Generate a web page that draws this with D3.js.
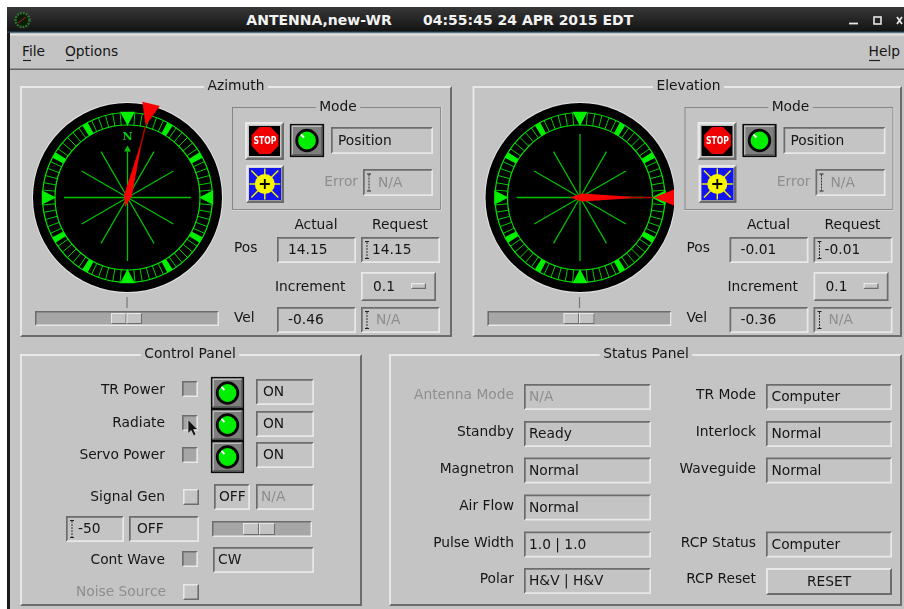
<!DOCTYPE html>
<html><head><meta charset="utf-8">
<script src="https://cdn.jsdelivr.net/npm/d3@7"></script>
<style>
html,body{margin:0;padding:0;background:#fff;overflow:hidden}
svg{display:block;filter:blur(0.4px)}
text{font-family:"DejaVu Sans",sans-serif;font-size:13.8px;fill:#161616}
</style></head><body><svg id="c" width="904" height="609"></svg>
<script>
// ---- data ----
const windowTitle = "ANTENNA,new-WR";
const windowClock = "04:55:45 24 APR 2015 EDT";
const menuItems = ["File", "Options"];
const dialNames = ["Azimuth", "Elevation"];
const dialModes = ["Position", "Position"];
const positionActual = ["14.15", "-0.01"];
const positionRequest = ["14.15", "-0.01"];
const velocityActual = ["-0.46", "-0.36"];
const increments = ["0.1", "0.1"];
const needleDegrees = [14.15, 90.01];
const controlLabels = ["TR Power", "Radiate", "Servo Power"];
const controlStates = ["ON", "ON", "ON"];
const statusLeftLabels = ["Antenna Mode", "Standby", "Magnetron", "Air Flow", "Pulse Width", "Polar"];
const statusLeftValues = ["N/A", "Ready", "Normal", "Normal", "1.0 | 1.0", "H&V | H&V"];
const statusRightLabels = ["TR Mode", "Interlock", "Waveguide", "RCP Status"];
const statusRightValues = ["Computer", "Normal", "Normal", "Computer"];

// ---- colours ----
const BG="#c4c4c4", DK="#6c6c6c", LT="#e8e8e8", TROUGH="#a6a6a6", GREEN="#00ee00", RING="#00e000", WEDGE="#00f000", SPOKE="#00c000", RED="#fa0000", DIS="#8e8e8e";

const svg=d3.select("#c");
const defs=svg.append("defs");
const tg=defs.append("linearGradient").attr("id","tb").attr("x1",0).attr("x2",0).attr("y1",0).attr("y2",1);
tg.append("stop").attr("offset",0).attr("stop-color","#383838");
tg.append("stop").attr("offset",1).attr("stop-color","#121212");

function rect(g,x,y,w,h,fill,stroke,sw){return g.append("rect").attr("x",x).attr("y",y).attr("width",w).attr("height",h).attr("fill",fill||"none").attr("stroke",stroke||"none").attr("stroke-width",sw||1);}
function txt(g,x,y,s,o={}){const t=g.append("text").attr("x",x).attr("y",y).attr("text-anchor",o.a||"start").attr("dominant-baseline","central").text(s);if(o.c)t.style("fill",o.c);if(o.w)t.style("font-weight",o.w);if(o.s)t.style("font-size",o.s+"px");return t;}
function bevel(g,x,y,w,h,tl,br,t){
  g.append("path").attr("fill",tl).attr("d",`M${x},${y+h}V${y}H${x+w}L${x+w-t},${y+t}H${x+t}V${y+h-t}Z`);
  g.append("path").attr("fill",br).attr("d",`M${x+w},${y}V${y+h}H${x}L${x+t},${y+h-t}H${x+w-t}V${y+t}Z`);
}
const sunken=(g,x,y,w,h,t=1.7)=>bevel(g,x,y,w,h,DK,LT,t);
const raised=(g,x,y,w,h,t=1.7)=>bevel(g,x,y,w,h,LT,DK,t);
function ibeam(g,x,y){
  g.append("path").attr("fill","none").attr("stroke","#333").attr("stroke-width",1).attr("stroke-dasharray","2 1")
   .attr("d",`M${x},${y-8}V${y+8}`);
  g.append("path").attr("fill","none").attr("stroke","#222").attr("d",`M${x-2},${y-8.5}H${x+2}M${x-2},${y+8.5}H${x+2}`);
}
function field(g,x,y,w,h,s,o={}){
  sunken(g,x,y,w,h);
  if(o.beam) ibeam(g,x+6,y+h/2);
  if(s) txt(g,x+(o.dx||7),y+h/2-.6,s,{c:o.c});
}
function frame(g,x,y,w,h,title,cx,o={}){
  if(o.inset){
    rect(g,x+.5,y+.5,w-1,h-1,"none","#858585",1);
    g.append("path").attr("fill","none").attr("stroke","#dcdcdc").attr("stroke-width",.8).attr("d",`M${x+w+.4},${y}V${y+h+.4}H${x}`);
  } else bevel(g,x,y,w,h,LT,DK,2);
  const tw=g.append("text").style("opacity",0).text(title).node().getComputedTextLength()+7;
  rect(g,cx-tw/2,y-3,tw,7,BG);
  txt(g,cx,y-1,title,{a:"middle"});
}
function slider(g,x,y,w,h,tx,tw){
  rect(g,x,y,w,h,TROUGH);
  sunken(g,x,y,w,h,1.5);
  rect(g,tx,y+2,tw,h-4,BG);
  bevel(g,tx,y+2,tw/2,h-4,LT,DK,1);
  bevel(g,tx+tw/2,y+2,tw/2,h-4,LT,DK,1);
}
function lamp(g,x,y,w,h){
  rect(g,x+.7,y+.7,w-1.4,h-1.4,"#7e7e7e","#0c0c0c",1.6);
  bevel(g,x+1.6,y+1.6,w-3.2,h-3.2,"#bdbdbd","#5c5c5c",1.3);
  const cx=x+w/2,cy=y+h/2;
  g.append("circle").attr("cx",cx).attr("cy",cy).attr("r",10.3).attr("fill",GREEN).attr("stroke","#080808").attr("stroke-width",2.8);
  g.append("path").attr("d",`M${cx-6},${cy-6}l3,3`).attr("stroke","#ffffff").attr("stroke-width",1.8);
}

// ---- window chrome ----
rect(svg,7,7,897,602,BG);
rect(svg,7,7,3,602,"#1a1a1a");
rect(svg,7,7,897,25,"url(#tb)");
rect(svg,7,31.5,897,1.2,"#24506e");
rect(svg,10,34,894,1.6,"#e0e0e0");
rect(svg,10,68.5,894,1.5,"#666");
txt(svg,319,20,windowTitle,{a:"middle",w:"bold",c:"#f2f2f2",s:14});
txt(svg,423,20,windowClock,{w:"bold",c:"#f2f2f2",s:14});
const icon=svg.append("g");
icon.append("circle").attr("cx",22.5).attr("cy",20).attr("r",7).attr("fill","#0a1c0a").attr("stroke","#2f6f2f").attr("stroke-width",2.4).attr("stroke-dasharray","2 1");
icon.append("path").attr("d","M18,23L26,17").attr("stroke","#b02020").attr("stroke-width",1);
const wb=svg.append("g").attr("fill","none").attr("stroke","#e6e6e6");
wb.append("path").attr("d","M849,23.5h9").attr("stroke-width",1.8);
wb.append("rect").attr("x",874).attr("y",17).attr("width",7).attr("height",7).attr("stroke-width",1.6);
wb.append("path").attr("d","M897,17l5,7M902,17l-5,7").attr("stroke-width",1.8);
const menuX=[22,65];
menuItems.forEach((m,i)=>{txt(svg,menuX[i],51,m);svg.append("path").attr("d",`M${menuX[i]+1},60.5h8`).attr("stroke","#222").attr("stroke-width",1.2);});
txt(svg,900,51,"Help",{a:"end"});
svg.append("path").attr("d","M869,60.5h11").attr("stroke","#222").attr("stroke-width",1.2);

// ---- dial ----
const polar=d3.scaleLinear().domain([0,360]).range([0,2*Math.PI]);
const px=(deg,r)=>r*Math.sin(polar(deg));
const py=(deg,r)=>-r*Math.cos(polar(deg));
const poly=pts=>"M"+pts.map(p=>p.join(",")).join("L")+"Z";
const gridTicks=d3.range(0,360,5);
const bigTicks=d3.range(0,360,30);
const OUT=85,IN=72.5;
function dial(g,cx,cy,deg,showNorth){
  const d=g.append("g").attr("transform",`translate(${cx},${cy})`);
  d.append("circle").attr("r",95.5).attr("fill","#e4e4e4");
  d.append("circle").attr("r",94.5).attr("fill","#000");
  [OUT,IN].forEach(r=>d.append("circle").attr("r",r).attr("fill","none").attr("stroke",RING).attr("stroke-width",1.2));
  gridTicks.forEach(a=>d.append("line").attr("x1",px(a,IN)).attr("y1",py(a,IN)).attr("x2",px(a,OUT)).attr("y2",py(a,OUT)).attr("stroke",RING).attr("stroke-width",.9));
  bigTicks.filter(a=>a%90).forEach(a=>d.append("path").attr("fill",WEDGE).attr("d",poly([[px(a-2.1,IN),py(a-2.1,IN)],[px(a+2.1,IN),py(a+2.1,IN)],[px(a+2.1,OUT),py(a+2.1,OUT)],[px(a-2.1,OUT),py(a-2.1,OUT)]])));
  [0,90,180,270].forEach(a=>d.append("path").attr("fill",WEDGE).attr("d",poly([[px(a,IN-1),py(a,IN-1)],[px(a-4.9,OUT+1),py(a-4.9,OUT+1)],[px(a+4.9,OUT+1),py(a+4.9,OUT+1)]])));
  bigTicks.forEach(a=>{
    const r=a%90?53:63.5;
    const end=(a===0&&showNorth)?46:r;
    d.append("line").attr("x2",px(a,end)).attr("y2",py(a,end)).attr("stroke",SPOKE).attr("stroke-width",1.3);
  });
  if(showNorth){
    d.append("path").attr("fill",SPOKE).attr("d",poly([[0,-52],[-3.5,-46],[3.5,-46]]));
    d.append("text").attr("y",-61).attr("text-anchor","middle").attr("dominant-baseline","central").style("font-family","'DejaVu Serif',serif").style("font-weight","bold").style("font-size","11px").style("fill","#00d000").text("N");
  }
  const W=d.append("g");
  W.append("path").attr("fill",RED).attr("d",poly([
    [px(deg,74),py(deg,74)],
    [px(deg-5.3,97),py(deg-5.3,97)],
    [px(deg+5.3,97),py(deg+5.3,97)]]));
  d.append("line").attr("x1",px(deg,50)).attr("y1",py(deg,50)).attr("x2",px(deg,73)).attr("y2",py(deg,73)).attr("stroke","#b80000").attr("stroke-width",1.4);
  W.append("path").attr("fill",RED).attr("d",poly([
    [px(deg,-10),py(deg,-10)],
    [px(deg+90,3.9)+px(deg,2),py(deg+90,3.9)+py(deg,2)],
    [px(deg,62),py(deg,62)],
    [px(deg-90,3.9)+px(deg,2),py(deg-90,3.9)+py(deg,2)]]));
  return d;
}
defs.append("clipPath").attr("id","elClip").append("rect").attr("x",473).attr("y",90).attr("width",201).attr("height",215);

// ---- azimuth & elevation panels ----
dialNames.forEach((name,i)=>{
  const g=svg.append("g").attr("transform",`translate(${i?452.5:0},0)`);
  frame(g,20,86,i?429.5:432,251,name,236);
  const cg=svg.append("g");
  if(i) cg.attr("clip-path","url(#elClip)");
  dial(cg,i?580:127.5,197.5,needleDegrees[i],i===0);
  g.append("path").attr("d","M127,297v11").attr("stroke","#777").attr("stroke-width",1.2);
  slider(g,35,311,184,15,111,31);
  frame(g,232,107,209,103,"Mode",338,{inset:true});
  // stop button
  raised(g,245,122,39,38,2.5);
  rect(g,249,126,31,30,"#000");
  const oct=d3.range(8).map(k=>[265+14.5*Math.sin(polar(22.5+45*k)),140.5+14.5*Math.cos(polar(22.5+45*k))]);
  g.append("path").attr("d",poly(oct)).attr("fill","#f00000");
  txt(g,265,140.5,"STOP",{a:"middle",c:"#fff",w:"bold",s:11}).attr("textLength",23).attr("lengthAdjust","spacingAndGlyphs");
  // target button
  raised(g,246,165,38,38,2.5);
  rect(g,249,168,32,32,"#1414f0");
  const sx=264.8,sy=184;
  d3.range(8).forEach(k=>{const a=45*k;g.append("line").attr("x1",sx).attr("y1",sy).attr("x2",sx+(k%2?19:15.5)*Math.sin(polar(a))).attr("y2",sy-(k%2?19:15.5)*Math.cos(polar(a))).attr("stroke","#f6f600").attr("stroke-width",1.4);});
  g.append("circle").attr("cx",sx).attr("cy",sy).attr("r",10).attr("fill","#f6f600");
  g.append("path").attr("d",`M${sx-5},${sy}h10M${sx},${sy-5}v10`).attr("stroke","#000").attr("stroke-width",1.8);
  lamp(g,290,124,34,33);
  field(g,331,127,102,27,dialModes[i]);
  txt(g,358,181,"Error",{a:"end",c:DIS});
  field(g,363,169,70,27,"N/A",{beam:true,c:DIS,dx:15});
  txt(g,316,223.5,"Actual",{a:"middle"});
  txt(g,400,223.5,"Request",{a:"middle"});
  txt(g,234,247,"Pos");
  field(g,277,237,79,26,positionActual[i],{dx:11});
  field(g,361,237,79,26,positionRequest[i],{beam:true,dx:11});
  txt(g,275,285.5,"Increment");
  raised(g,361,272,75,29);
  txt(g,373,285.5,increments[i]);
  raised(g,411,283,15,6,1.2);
  txt(g,234,317,"Vel");
  field(g,277,307,79,26,velocityActual[i],{dx:11});
  field(g,361,307,79,26,"N/A",{beam:true,c:DIS,dx:15});
});

// ---- control panel ----
const cp=svg.append("g");
frame(cp,20,354,342,252,"Control Panel",190);
const rowY=[389,422,454], rowBox=[381,415,447], lampY=[377,409,441], onY=[379,411,442];
function check(g,x,y,on){rect(g,x,y,16,16,on?TROUGH:BG);(on?sunken:raised)(g,x,y,16,16,1.6);}
controlLabels.forEach((l,i)=>{
  txt(cp,165,rowY[i],l,{a:"end"});
  check(cp,182,rowBox[i],true);
  lamp(cp,211,lampY[i],33,32);
  field(cp,256,onY[i],58,26,controlStates[i]);
});
txt(cp,165,496,"Signal Gen",{a:"end"});
check(cp,183,489,false);
field(cp,214,484,36,26,"OFF",{dx:5});
field(cp,256,484,58,26,"N/A",{dx:5,c:DIS});
field(cp,66,516,58,26,"-50",{beam:true,dx:12});
field(cp,129,516,70,26,"OFF",{dx:8});
slider(cp,212,521,100,16,243,32);
txt(cp,165,559,"Cont Wave",{a:"end"});
check(cp,182,551,true);
field(cp,213,547,101,26,"CW",{dx:5});
txt(cp,166,591,"Noise Source",{a:"end",c:DIS});
check(cp,183,584,false);
// pointer
cp.append("path").attr("d","M188,419.5v14l3.2,-3l2.4,5.2l2.4,-1.2l-2.4,-5h4.2Z").attr("fill","#111").attr("stroke","#d8d8d8").attr("stroke-width",.7);

// ---- status panel ----
const sp=svg.append("g");
frame(sp,389,354,513,252,"Status Panel",646);
const leftY=[384,421,457.5,494.5,531.5,568];
statusLeftLabels.forEach((l,i)=>{
  const off=i===0;
  txt(sp,514,leftY[i]+10,l,{a:"end",c:off?DIS:null});
  field(sp,524,leftY[i],127,26,statusLeftValues[i],{dx:5,c:off?DIS:null});
});
const rightY=[384,421,457.5,531.5];
statusRightLabels.forEach((l,i)=>{
  txt(sp,756,rightY[i]+10,l,{a:"end"});
  field(sp,766,rightY[i],126,26,statusRightValues[i],{dx:5.5});
});
txt(sp,756,578,"RCP Reset",{a:"end"});
raised(sp,766,568,126,27,2);
txt(sp,829,581,"RESET",{a:"middle"});
</script></body></html>
